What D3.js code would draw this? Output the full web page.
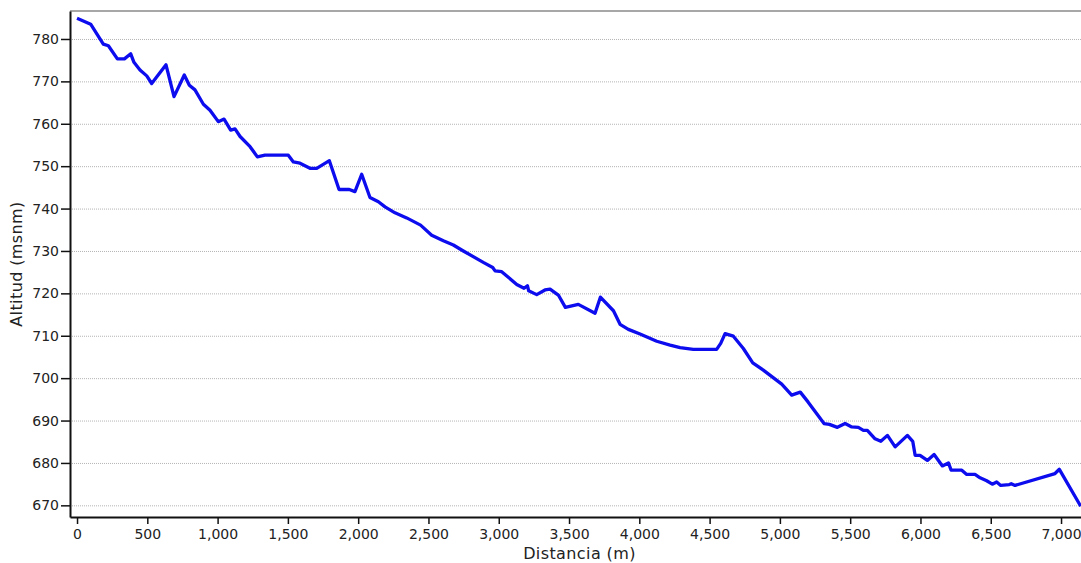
<!DOCTYPE html>
<html>
<head>
<meta charset="utf-8">
<script src="https://cdn.jsdelivr.net/npm/d3@7"></script>
<style>
    body { margin: 0; background: #fff; }
    svg { display: block; font-family: "DejaVu Sans", sans-serif; }
</style>
</head>
<body>
<svg id="perfil" width="1081" height="563"></svg>
<script>
// Perfil de elevacion: distancia (m) y altitud (msnm)
const distancia = [0, 97, 187, 223, 287, 337, 382, 405, 448, 496, 531, 633, 690, 763, 799, 839, 899, 946,
    1005, 1046, 1093, 1124, 1160, 1231, 1283, 1337, 1503, 1539, 1586, 1657, 1705, 1795, 1864, 1937, 1977,
    2025, 2084, 2144, 2191, 2262, 2345, 2444, 2523, 2606, 2677, 2748, 2890, 2957, 2974, 3021, 3068, 3128,
    3180, 3204, 3213, 3270, 3329, 3365, 3424, 3474, 3566, 3685, 3723, 3816, 3863, 3922, 4005, 4124, 4219,
    4290, 4384, 4550, 4579, 4610, 4669, 4740, 4807, 4882, 5013, 5084, 5145, 5200, 5314, 5352, 5409, 5464,
    5511, 5558, 5594, 5622, 5677, 5718, 5765, 5820, 5907, 5945, 5962, 5997, 6049, 6097, 6156, 6199, 6218,
    6294, 6329, 6388, 6424, 6471, 6511, 6542, 6571, 6632, 6646, 6673, 6957, 6988, 7140];
const altitud = [784.9, 783.5, 778.8, 778.4, 775.3, 775.3, 776.5, 774.5, 772.7, 771.3, 769.5, 773.9, 766.4,
    771.5, 769.1, 768.0, 764.6, 763.2, 760.5, 761.1, 758.5, 758.8, 757.0, 754.6, 752.2, 752.6, 752.6, 751.0,
    750.7, 749.5, 749.5, 751.3, 744.5, 744.5, 744.0, 748.1, 742.6, 741.6, 740.4, 739.0, 737.8, 736.1, 733.7,
    732.4, 731.4, 730.0, 727.3, 726.1, 725.3, 725.1, 723.8, 722.1, 721.2, 721.8, 720.6, 719.7, 720.8, 721.0,
    719.6, 716.7, 717.4, 715.3, 719.1, 715.9, 712.7, 711.5, 710.4, 708.7, 707.8, 707.2, 706.8, 706.8, 708.2,
    710.5, 709.9, 707.0, 703.6, 701.9, 698.6, 696.0, 696.7, 694.4, 689.3, 689.1, 688.4, 689.3, 688.5, 688.4,
    687.7, 687.7, 685.7, 685.1, 686.5, 683.8, 686.5, 685.1, 681.8, 681.8, 680.6, 682.0, 679.3, 680.0, 678.3,
    678.3, 677.3, 677.3, 676.5, 675.8, 675.0, 675.5, 674.7, 674.9, 675.1, 674.7, 677.5, 678.5, 669.8];

const ticksX = [0, 500, 1000, 1500, 2000, 2500, 3000, 3500, 4000, 4500, 5000, 5500, 6000, 6500, 7000];
const ticksY = [670, 680, 690, 700, 710, 720, 730, 740, 750, 760, 770, 780];

const width = 1081, height = 563;
const margin = { top: 11, right: 0, bottom: 46, left: 70 };

const svg = d3.select("#perfil");

const x = d3.scaleLinear()
    .domain([-50, 7142])
    .range([margin.left, width - margin.right]);

const y = d3.scaleLinear()
    .domain([667.25, 786.6])
    .range([height - margin.bottom, margin.top]);

// Lineas de la cuadricula
svg.append("g")
    .selectAll("line")
    .data(ticksY)
    .enter()
    .append("line")
    .attr("x1", margin.left)
    .attr("x2", width - margin.right)
    .attr("y1", d => y(d) + 0.5)
    .attr("y2", d => y(d) + 0.5)
    .attr("stroke", "#b4b4b4")
    .attr("stroke-width", 1)
    .attr("stroke-dasharray", "1,1");

// Borde superior
svg.append("line")
    .attr("x1", margin.left)
    .attr("x2", width)
    .attr("y1", margin.top)
    .attr("y2", margin.top)
    .attr("stroke", "#8a8a8a")
    .attr("stroke-width", 1.5);

svg.append("clipPath")
    .attr("id", "recorte")
    .append("rect")
    .attr("x", margin.left)
    .attr("y", margin.top)
    .attr("width", width - margin.left - margin.right)
    .attr("height", height - margin.top - margin.bottom);

const puntos = distancia.map((d, i) => [d, altitud[i]]);

const linea = d3.line()
    .x(d => x(d[0]))
    .y(d => y(d[1]));

svg.append("path")
    .datum(puntos)
    .attr("clip-path", "url(#recorte)")
    .attr("d", linea)
    .attr("fill", "none")
    .attr("stroke", "#0c0cee")
    .attr("stroke-width", 3.3)
    .attr("stroke-linejoin", "round");

// Ejes
const ejeX = svg.append("g")
    .attr("transform", "translate(0," + (height - margin.bottom) + ")")
    .call(d3.axisBottom(x).tickValues(ticksX).tickFormat(d3.format(",")).tickSize(7).tickPadding(5).tickSizeOuter(0));

const ejeY = svg.append("g")
    .attr("transform", "translate(" + margin.left + ",0)")
    .call(d3.axisLeft(y).tickValues(ticksY).tickSize(9).tickPadding(2).tickSizeOuter(0));

[ejeX, ejeY].forEach(function (eje) {
    eje.select(".domain").attr("stroke", "#111").attr("stroke-width", 2);
    eje.selectAll(".tick line").attr("stroke", "#111").attr("stroke-width", 1.5);
    eje.selectAll(".tick text")
        .attr("fill", "#222")
        .style("font-size", "14px")
        .style("font-family", "'DejaVu Sans', sans-serif");
});

// Titulos de los ejes
svg.append("text")
    .attr("x", (margin.left + width) / 2 + 4)
    .attr("y", 559)
    .attr("text-anchor", "middle")
    .attr("fill", "#222")
    .style("font-size", "16px")
    .style("letter-spacing", "0.4px")
    .text("Distancia (m)");

svg.append("text")
    .attr("transform", "translate(22," + ((margin.top + height - margin.bottom) / 2) + ") rotate(-90)")
    .attr("text-anchor", "middle")
    .attr("fill", "#222")
    .style("font-size", "16px")
    .style("letter-spacing", "0.4px")
    .text("Altitud (msnm)");
</script>
</body>
</html>
